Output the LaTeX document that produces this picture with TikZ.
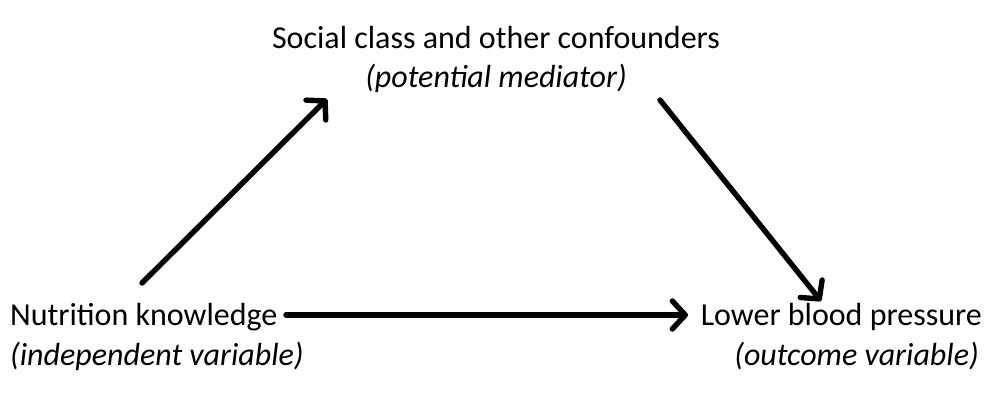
\documentclass[tikz,border=0pt]{standalone}
\usepackage{fontspec}
\setmainfont{Carlito}
\usetikzlibrary{arrows.meta}
\begin{document}
\begin{tikzpicture}[x=1pt,y=-1pt,
  lbl/.style={inner sep=0pt,font=\fontsize{32}{36}\selectfont},
  conn/.style={line width=5.4pt,line cap=round,-{Straight Barb[length=13pt,width=28pt,line cap=round,round]}}]
\useasboundingbox (0,0) rectangle (992,400);
\node[lbl,anchor=base] (top1) at (496,48) {Social class and other confounders};
\node[lbl,anchor=base] (top2) at (496,87) {\itshape (potential mediator)};
\node[lbl,anchor=base west] (nk) at (10,325) {Nutrition knowledge};
\node[lbl,anchor=base west] (nk2) at (10,365) {\itshape (independent variable)};
\node[lbl,anchor=base east] (bp) at (982,325) {Lower blood pressure};
\node[lbl,anchor=base east] (bp2) at (979,365) {\itshape (outcome variable)};
\coordinate (a1) at (142,283);
\coordinate (a2) at (327,99);
\coordinate (b1) at (660,100);
\coordinate (b2) at (821,301);
\coordinate (c1) at (286,315);
\coordinate (c2) at (688,315);
\draw[conn] (a1) -- (a2);
\draw[conn] (b1) -- (b2);
\draw[conn] (c1) -- (c2);
\end{tikzpicture}
\end{document}
